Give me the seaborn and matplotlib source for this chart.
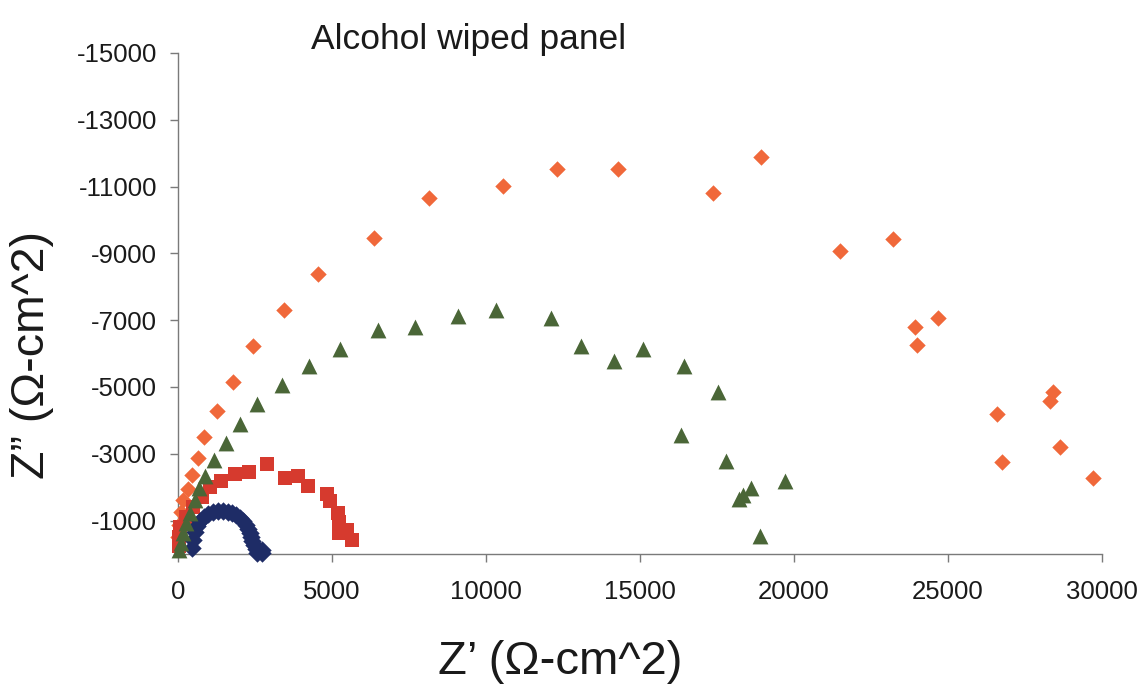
import numpy as np
import pandas as pd
import matplotlib
matplotlib.use("Agg")
import matplotlib.pyplot as plt
import seaborn as sns

# Nyquist data, Z' and Z'' in ohm-cm^2 (Z'' negative, plotted upward)
blue_zr = [455, 487, 552, 617, 714, 844, 974, 1136, 1299, 1461, 1623, 1753, 1883,
           2013, 2110, 2208, 2273, 2338, 2370, 2403, 2468, 2532, 2565, 2727, 2727]
blue_zi = [-180, -419, -659, -838, -988, -1108, -1198, -1257, -1287, -1287, -1257,
           -1228, -1168, -1078, -988, -868, -749, -629, -509, -389, -269, -150, -30,
           -120, -30]

red_zr = [20, 30, 65, 260, 497, 769, 1039, 1386, 1851, 2305, 2880, 3474, 3880,
          4205, 4828, 4919, 5205, 5227, 5227, 5477, 5649]
red_zi = [-240, -518, -817, -1117, -1416, -1716, -1997, -2186, -2386, -2464, -2686,
          -2284, -2341, -2027, -1796, -1578, -1219, -967, -620, -719, -419]

green_zr = [42, 88, 153, 260, 390, 552, 692, 877, 1179, 1568, 2013, 2575, 3386,
            4244, 5250, 6503, 7695, 9081, 10325, 12097, 13084, 14162, 15088, 16425,
            17542, 16338, 17799, 19714, 18597, 18341, 18214, 18896]
green_zi = [-120, -320, -620, -919, -1219, -1617, -1985, -2344, -2814, -3332, -3892,
            -4482, -5045, -5629, -6147, -6707, -6796, -7135, -7296, -7069, -6213,
            -5787, -6147, -5638, -4841, -3563, -2784, -2195, -1967, -1766, -1647,
            -539]

orange_zr = [10, 32, 97, 172, 315, 445, 640, 854, 1250, 1786, 2425, 3451, 4555,
             6354, 8149, 10562, 12295, 14295, 17357, 18919, 21497, 23205, 24688,
             23916, 23990, 28325, 28409, 26604, 26763, 28630, 29724]
orange_zi = [-509, -868, -1257, -1617, -1937, -2365, -2865, -3494, -4281, -5150,
             -6219, -7305, -8374, -9452, -10659, -11018, -11518, -11518, -10799,
             -11877, -9072, -9440, -7066, -6787, -6257, -4590, -4850, -4201, -2763,
             -3195, -2266]

x_ticks = [0, 5000, 10000, 15000, 20000, 25000, 30000]
y_ticks = [-1000, -3000, -5000, -7000, -9000, -11000, -13000, -15000]

sns.set_style("white")
plt.rcParams["font.family"] = ["Liberation Sans", "DejaVu Sans"]

fig = plt.figure(figsize=(11.43, 6.93), dpi=100)
ax = fig.add_axes([178 / 1143, 1 - 554 / 693, (1102 - 178) / 1143, (554 - 53) / 693])

series = [
    (orange_zr, orange_zi, "#F0683A", "D", 70),
    (red_zr, red_zi, "#D63A2E", "s", 100),
    (blue_zr, blue_zi, "#1E2C66", "D", 88),
    (green_zr, green_zi, "#4A6637", "^", 130),
]
for zr, zi, color, marker, size in series:
    df = pd.DataFrame({"Zr": zr, "Zi": zi})
    sns.scatterplot(data=df, x="Zr", y="Zi", ax=ax, color=color, marker=marker,
                    s=size, linewidth=0, clip_on=False, zorder=3)

ax.set_xlim(0, 30000)
ax.set_ylim(0, -15000)
ax.set_xticks(x_ticks)
ax.set_yticks(y_ticks)
ax.set_xticklabels([str(v) for v in x_ticks])
ax.set_yticklabels([str(v) for v in y_ticks])
ax.set_xlabel("")
ax.set_ylabel("")

for side in ("top", "right"):
    ax.spines[side].set_visible(False)
for side in ("left", "bottom"):
    ax.spines[side].set_color("#7a7a7a")
    ax.spines[side].set_linewidth(1.0)

ax.tick_params(axis="both", direction="out", length=6, width=1.0, color="#7a7a7a",
               labelcolor="#1a1a1a", labelsize=18.5)
ax.tick_params(axis="x", pad=13, bottom=True)
ax.tick_params(axis="y", pad=9, left=True)

fig.text(469 / 1143, 1 - 40 / 693, "Alcohol wiped panel", ha="center", va="center",
         fontsize=25.5, color="#1a1a1a")
fig.text(560 / 1143, 1 - 662 / 693, "Z\u2019 (\u03a9-cm^2)", ha="center", va="center",
         fontsize=34, color="#1a1a1a")
fig.text(32 / 1143, 1 - 355 / 693, "Z\u201d (\u03a9-cm^2)", ha="center", va="center",
         rotation=90, fontsize=33.5, color="#1a1a1a")

fig.savefig("out.png", dpi=100, facecolor="white")
